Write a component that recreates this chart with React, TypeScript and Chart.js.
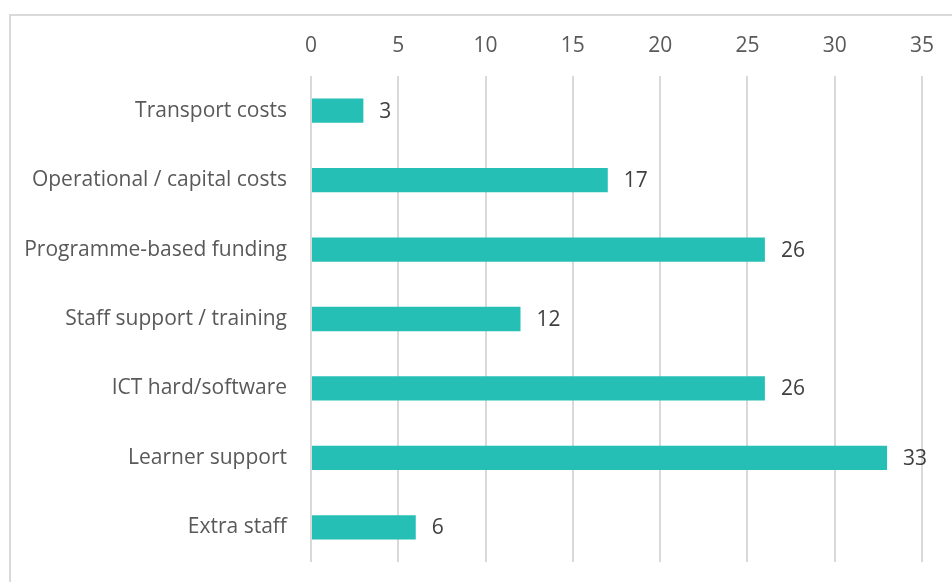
import React, { useEffect, useRef } from "react";
import { Chart, registerables } from "chart.js";

Chart.register(...registerables);

const categories = [
  "Transport costs",
  "Operational / capital costs",
  "Programme-based funding",
  "Staff support / training",
  "ICT hard/software",
  "Learner support",
  "Extra staff",
];
const values = [3, 17, 26, 12, 26, 33, 6];
const axisMin = 0;
const axisMax = 35;
const axisStep = 5;

const FONT = "'Open Sans', sans-serif";

const valueLabels = {
  id: "valueLabels",
  afterDatasetsDraw(chart: any) {
    const ctx = chart.ctx;
    const meta = chart.getDatasetMeta(0);
    ctx.save();
    ctx.font = `21px ${FONT}`;
    ctx.fillStyle = "#404040";
    ctx.textAlign = "left";
    ctx.textBaseline = "middle";
    meta.data.forEach((bar: any, i: number) => {
      ctx.fillText(String(values[i]), bar.x + 16, bar.y + 1);
    });
    ctx.restore();
  },
};

export default function App() {
  const ref = useRef<HTMLCanvasElement>(null);
  useEffect(() => {
    if (!ref.current) return;
    const chart = new Chart(ref.current, {
      type: "bar",
      data: {
        labels: categories,
        datasets: [
          {
            data: values,
            backgroundColor: "#26BFB5",
            borderWidth: 0,
            barPercentage: 0.35,
            categoryPercentage: 1,
          },
        ],
      },
      options: {
        indexAxis: "y",
        animation: false,
        responsive: false,
        maintainAspectRatio: false,
        layout: { padding: { left: 0, right: 30, top: 0, bottom: 20 } },
        plugins: { legend: { display: false }, tooltip: { enabled: false } },
        scales: {
          x: {
            position: "top",
            min: axisMin,
            max: axisMax,
            ticks: {
              stepSize: axisStep,
              color: "#595959",
              font: { family: FONT, size: 21 },
              padding: 17,
            },
            grid: { color: "#d9d9d9", lineWidth: 2, drawTicks: false },
            border: { display: false },
            afterFit: (s: any) => {
              s.height = 76;
            },
          },
          y: {
            ticks: {
              color: "#595959",
              font: { family: FONT, size: 21 },
              padding: 16,
            },
            grid: { display: false },
            border: { display: false },
            afterFit: (s: any) => {
              s.width = 311;
              s.paddingTop = 0;
              s.paddingBottom = 0;
            },
          },
        },
      },
      plugins: [valueLabels],
    });
    return () => chart.destroy();
  }, []);
  return (
    <div style={{ position: "fixed", left: 0, top: 0, width: 952, height: 582, background: "#fff", overflow: "hidden" }}>
      <div
        style={{
          position: "absolute",
          left: 9,
          top: 14,
          width: 1000,
          height: 1000,
          border: "2px solid #d9d9d9",
          boxSizing: "border-box",
        }}
      />
      <canvas ref={ref} width={952} height={582} style={{ position: "absolute", left: 0, top: 0 }} />
    </div>
  );
}
